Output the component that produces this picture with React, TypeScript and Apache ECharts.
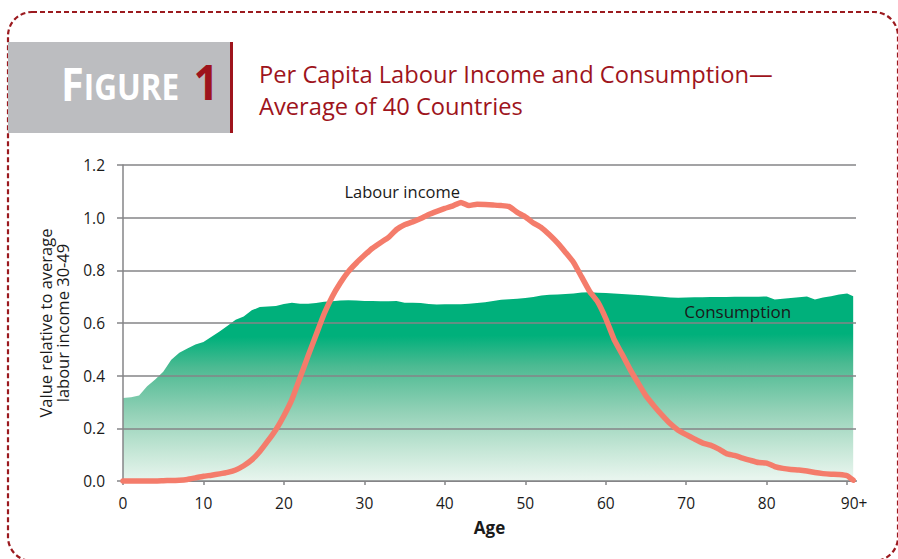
import React, { useEffect, useRef } from "react";
import * as echarts from "echarts";

// Age (years); the final point is the "90+" group end
const ages = [
  0, 1, 2, 3, 4, 5, 6, 7, 8, 9,
  10, 11, 12, 13, 14, 15, 16, 17, 18, 19,
  20, 21, 22, 23, 24, 25, 26, 27, 28, 29,
  30, 31, 32, 33, 34, 35, 36, 37, 38, 39,
  40, 41, 42, 43, 44, 45, 46, 47, 48, 49,
  50, 51, 52, 53, 54, 55, 56, 57, 58, 59,
  60, 61, 62, 63, 64, 65, 66, 67, 68, 69,
  70, 71, 72, 73, 74, 75, 76, 77, 78, 79,
  80, 81, 82, 83, 84, 85, 86, 87, 88, 89,
  90, 90.75,
];

const labourIncome = [
  0, 0, 0, 0, 0, 0.001, 0.002, 0.003, 0.006, 0.012,
  0.018, 0.022, 0.027, 0.033, 0.042, 0.058, 0.08, 0.112, 0.152, 0.195,
  0.248, 0.31, 0.392, 0.475, 0.555, 0.635, 0.7, 0.752, 0.795, 0.828,
  0.857, 0.884, 0.905, 0.925, 0.955, 0.973, 0.984, 0.997, 1.012, 1.024,
  1.035, 1.045, 1.058, 1.046, 1.051, 1.05, 1.048, 1.046, 1.042, 1.02,
  1.003, 0.98, 0.962, 0.935, 0.904, 0.868, 0.83, 0.775, 0.72, 0.68,
  0.617, 0.54, 0.483, 0.425, 0.373, 0.323, 0.285, 0.25, 0.218, 0.193,
  0.176, 0.16, 0.145, 0.136, 0.122, 0.104, 0.097, 0.087, 0.078, 0.07,
  0.068, 0.055, 0.048, 0.044, 0.042, 0.038, 0.032, 0.028, 0.026, 0.025,
  0.02, 0.003,
];

const consumption = [
  0.315, 0.318, 0.325, 0.36, 0.385, 0.415, 0.46, 0.487, 0.503, 0.518,
  0.528, 0.548, 0.568, 0.59, 0.612, 0.625, 0.648, 0.661, 0.663, 0.665,
  0.672, 0.677, 0.673, 0.673, 0.676, 0.681, 0.683, 0.685, 0.686, 0.685,
  0.684, 0.684, 0.683, 0.683, 0.684, 0.677, 0.677, 0.676, 0.672, 0.67,
  0.671, 0.671, 0.671, 0.673, 0.676, 0.679, 0.684, 0.688, 0.69, 0.692,
  0.695, 0.699, 0.704, 0.707, 0.708, 0.71, 0.712, 0.716, 0.717, 0.715,
  0.714, 0.712, 0.71, 0.708, 0.706, 0.704, 0.702, 0.7, 0.697, 0.696,
  0.697, 0.698, 0.698, 0.699, 0.699, 0.699, 0.7, 0.7, 0.7, 0.7,
  0.701, 0.689, 0.692, 0.695, 0.698, 0.701, 0.689, 0.697, 0.702, 0.708,
  0.712, 0.702,
];

const xTickValues = [0, 10, 20, 30, 40, 50, 60, 70, 80, 90];
const xLastLabel = "90+";

const titleLine1 = "Per Capita Labour Income and Consumption\u2014";
const titleLine2 = "Average of 40 Countries";
const yAxisName = "Value relative to average\nlabour income 30-49";
const xAxisName = "Age";

const FONT = "'Open Sans', 'Noto Sans', sans-serif";
const RED = "#9e141c";
const GRID_GRAY = "#858587";

export default function App() {
  const ref = useRef<HTMLDivElement>(null);

  useEffect(() => {
    if (!ref.current) return;
    const chart = echarts.init(ref.current, undefined, { renderer: "svg" });

    const labourData = ages.map((a, i) => [a, labourIncome[i]]);
    const consData = ages.map((a, i) => [a, consumption[i]]);

    chart.setOption({
      animation: false,
      backgroundColor: "#ffffff",
      textStyle: { fontFamily: FONT },
      grid: { left: 123, right: 42, top: 165, bottom: 78, containLabel: false },
      xAxis: {
        type: "value",
        min: 0,
        max: 91.1,
        interval: 10,
        name: xAxisName,
        nameLocation: "middle",
        nameGap: 38,
        nameTextStyle: { fontFamily: FONT, fontSize: 17, fontWeight: "bold", color: "#1a1a1a" },
        axisLine: { show: true, lineStyle: { color: GRID_GRAY, width: 2 } },
        axisTick: { show: true, length: 4, customValues: xTickValues, lineStyle: { color: GRID_GRAY, width: 1.5 } },
        axisLabel: {
          customValues: xTickValues,
          margin: 14,
          fontSize: 15.5,
          color: "#1a1a1a",
          fontFamily: FONT,
          formatter: (v: number) => (v === 90 ? "{p|" + xLastLabel + "}" : String(v)),
          rich: { p: { fontSize: 15.5, color: "#1a1a1a", fontFamily: FONT, padding: [0, 0, 0, 14] } },
        },
        splitLine: { show: false },
      },
      yAxis: {
        type: "value",
        min: 0,
        max: 1.2,
        interval: 0.2,
        z: 3,
        name: yAxisName,
        nameLocation: "middle",
        nameGap: 52,
        nameRotate: 90,
        nameTextStyle: { fontFamily: FONT, fontSize: 16.5, color: "#1a1a1a", lineHeight: 17, align: "center" },
        axisLine: { show: true, lineStyle: { color: GRID_GRAY, width: 1.5 } },
        axisTick: { show: true, length: 6, lineStyle: { color: GRID_GRAY, width: 1.5 } },
        axisLabel: {
          margin: 18,
          fontSize: 15.5,
          color: "#1a1a1a",
          fontFamily: FONT,
          formatter: (v: number) => v.toFixed(1),
        },
        splitLine: { show: true, lineStyle: { color: GRID_GRAY, width: 1.5 } },
      },
      series: [
        {
          name: "Consumption",
          type: "line",
          data: consData,
          symbol: "none",
          smooth: false,
          z: 1,
          lineStyle: { width: 0 },
          areaStyle: {
            opacity: 1,
            color: new echarts.graphic.LinearGradient(0, 0, 0.02, 1, [
              { offset: 0, color: "#00b07b" },
              { offset: 0.24, color: "#00b07b" },
              { offset: 0.4, color: "#4cba92" },
              { offset: 0.65, color: "#95d2b8" },
              { offset: 0.85, color: "#c6e7d7" },
              { offset: 1, color: "#e8f5ee" },
            ]),
          },
          markPoint: {
            symbol: "circle",
            symbolSize: 1,
            itemStyle: { color: "rgba(0,0,0,0)" },
            label: { show: true, position: "inside", fontSize: 17, color: "#1a1a1a", fontFamily: FONT, formatter: "Consumption" },
            data: [{ coord: [76.4, 0.645] }],
          },
        },
        {
          name: "Labour income",
          type: "line",
          data: labourData,
          symbol: "none",
          smooth: 0.15,
          clip: false,
          z: 5,
          lineStyle: { width: 5.5, color: "#f47c6b", cap: "round", join: "round" },
          markPoint: {
            symbol: "circle",
            symbolSize: 1,
            itemStyle: { color: "rgba(0,0,0,0)" },
            label: { show: true, position: "inside", fontSize: 16.5, color: "#1a1a1a", fontFamily: FONT, formatter: "Labour income" },
            data: [{ coord: [34.7, 1.1] }],
          },
        },
      ],
      graphic: [
        {
          type: "rect",
          shape: { x: 8, y: 12, width: 890, height: 549, r: 24 },
          style: { fill: "none", stroke: "#9b1a1f", lineWidth: 2.2, lineDash: [5, 3] },
          silent: true,
        },
        {
          type: "rect",
          shape: { x: 8, y: 42, width: 222, height: 91 },
          style: { fill: "#bcbdc0" },
          silent: true,
        },
        {
          type: "rect",
          shape: { x: 230, y: 42, width: 3, height: 91 },
          style: { fill: RED },
          silent: true,
        },
        {
          type: "text",
          x: 61,
          y: 83,
          scaleX: 0.9,
          style: {
            text: "{a|F}{b|IGURE}{c|1}",
            verticalAlign: "middle",
            rich: {
              a: { fontFamily: FONT, fontSize: 46, fontWeight: "bold", fill: "#ffffff", verticalAlign: "bottom", lineHeight: 46 },
              b: { fontFamily: FONT, fontSize: 35, fontWeight: "bold", fill: "#ffffff", verticalAlign: "bottom", lineHeight: 46, padding: [0, 0, 2, 0] },
              c: { fontFamily: FONT, fontSize: 49, fontWeight: "bold", fill: RED, verticalAlign: "bottom", lineHeight: 46, padding: [0, 0, 0, 16] },
            },
          },
          silent: true,
        },
        {
          type: "text",
          x: 259,
          y: 74,
          style: { text: titleLine1, fontFamily: FONT, fontSize: 23.7, fill: RED, verticalAlign: "middle" },
          silent: true,
        },
        {
          type: "text",
          x: 259,
          y: 106,
          style: { text: titleLine2, fontFamily: FONT, fontSize: 23.7, fill: RED, verticalAlign: "middle" },
          silent: true,
        },
      ],
    });

    return () => chart.dispose();
  }, []);

  return (
    <div
      ref={ref}
      style={{ position: "fixed", left: 0, top: 0, width: 898, height: 559, background: "#fff" }}
    />
  );
}
